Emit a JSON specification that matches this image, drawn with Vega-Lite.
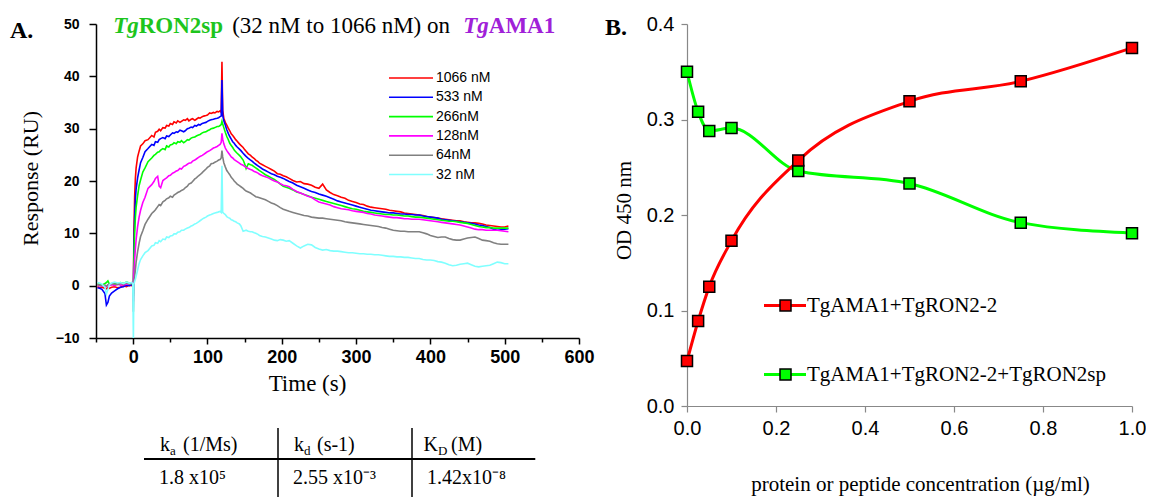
{
  "$schema": "https://vega.github.io/schema/vega-lite/v6.json",
  "background": "white",
  "padding": {"left": 10, "top": 14, "right": 0, "bottom": 0},
  "config": {
    "view": {"stroke": null},
    "axis": {"grid": false, "labelFlush": false, "labelOverlap": false}
  },
  "bounds": "flush",
  "columns": 2,
  "spacing": {"row": 22, "column": 108},
  "concat": [
        {
          "width": 483,
          "height": 314,
          "title": {"text": "A.", "anchor": "start", "frame": "group", "font": "Liberation Serif", "fontSize": 24, "fontWeight": "bold", "color": "black", "baseline": "middle", "offset": 0, "dx": -86, "dy": 40},
          "resolve": {"axis": {"x": "independent"}},
          "layer": [
            {
              "data": {"values": [
                {"t": -48, "1066 nM": -0.2, "533 nM": -0.4, "266nM": 0.3, "128nM": 0.1, "64nM": 0.2, "32 nM": 0.6},
                {"t": -45, "1066 nM": -0.4, "533 nM": -0.5, "266nM": 0.2, "128nM": 0.0, "64nM": 0.1, "32 nM": 0.5},
                {"t": -42, "1066 nM": -0.3, "533 nM": -0.7, "266nM": 0.1, "128nM": -0.1, "64nM": 0.0, "32 nM": 0.3},
                {"t": -38, "1066 nM": -0.5, "533 nM": -1.5, "266nM": 0.4, "128nM": 0.0, "64nM": 0.1, "32 nM": -0.3},
                {"t": -36, "1066 nM": -0.6, "533 nM": -3.7, "266nM": 0.6, "128nM": -0.2, "64nM": -0.1, "32 nM": -1.6},
                {"t": -34, "1066 nM": -0.4, "533 nM": -3.2, "266nM": 0.9, "128nM": 0.0, "64nM": 0.2, "32 nM": -0.8},
                {"t": -32, "1066 nM": -0.5, "533 nM": -2.0, "266nM": 0.3, "128nM": 0.1, "64nM": 0.3, "32 nM": 0.2},
                {"t": -29, "1066 nM": -0.3, "533 nM": -1.4, "266nM": 0.2, "128nM": 0.2, "64nM": 0.4, "32 nM": 0.5},
                {"t": -25, "1066 nM": -0.2, "533 nM": -1.0, "266nM": 0.4, "128nM": 0.0, "64nM": 0.3, "32 nM": 0.7},
                {"t": -21, "1066 nM": -0.4, "533 nM": -0.6, "266nM": 0.3, "128nM": 0.3, "64nM": 0.2, "32 nM": 0.5},
                {"t": -17, "1066 nM": -0.3, "533 nM": -0.3, "266nM": 0.6, "128nM": 0.1, "64nM": 0.4, "32 nM": 0.6},
                {"t": -13, "1066 nM": 0.0, "533 nM": -0.2, "266nM": 0.4, "128nM": 0.2, "64nM": 0.3, "32 nM": 0.4},
                {"t": -9, "1066 nM": -0.2, "533 nM": 0.1, "266nM": 0.7, "128nM": 0.3, "64nM": 0.5, "32 nM": 0.7},
                {"t": -5, "1066 nM": 0.1, "533 nM": 0.0, "266nM": 0.5, "128nM": 0.4, "64nM": 0.3, "32 nM": 0.5},
                {"t": -2, "1066 nM": 0.0, "533 nM": 0.2, "266nM": 0.4, "128nM": 0.6, "64nM": 0.4, "32 nM": 0.6},
                {"t": -0.5, "1066 nM": 0.2, "533 nM": 0.1, "266nM": 0.3, "128nM": 0.5, "64nM": 0.3, "32 nM": 0.4},
                {"t": 0.3, "1066 nM": -1.0, "533 nM": -1.5, "266nM": -2.0, "128nM": -3.0, "64nM": -5.0, "32 nM": -10.5},
                {"t": 1, "1066 nM": 10, "533 nM": 7, "266nM": 5, "128nM": 2.5, "64nM": 0.5, "32 nM": 0.3},
                {"t": 2, "1066 nM": 17, "533 nM": 13, "266nM": 10, "128nM": 5, "64nM": 1.8, "32 nM": 0.8},
                {"t": 3, "1066 nM": 20.5, "533 nM": 16.5, "266nM": 13, "128nM": 7, "64nM": 3, "32 nM": 1.2},
                {"t": 4, "1066 nM": 22.5, "533 nM": 18.5, "266nM": 15, "128nM": 8.8, "64nM": 4.5, "32 nM": 1.8},
                {"t": 6, "1066 nM": 24.6, "533 nM": 20.6, "266nM": 17.2, "128nM": 11.3, "64nM": 6.5, "32 nM": 3.0},
                {"t": 8, "1066 nM": 25.7, "533 nM": 22.1, "266nM": 19.1, "128nM": 13.1, "64nM": 8.1, "32 nM": 4.2},
                {"t": 10, "1066 nM": 26.7, "533 nM": 23.5, "266nM": 20.2, "128nM": 14.4, "64nM": 9.4, "32 nM": 5.0},
                {"t": 13, "1066 nM": 27.1, "533 nM": 24.5, "266nM": 21.7, "128nM": 15.9, "64nM": 10.5, "32 nM": 5.7},
                {"t": 16, "1066 nM": 27.7, "533 nM": 25.6, "266nM": 22.5, "128nM": 16.9, "64nM": 11.7, "32 nM": 6.3},
                {"t": 20, "1066 nM": 27.9, "533 nM": 26.2, "266nM": 23.7, "128nM": 18.6, "64nM": 12.7, "32 nM": 6.7},
                {"t": 25, "1066 nM": 28.7, "533 nM": 27.0, "266nM": 24.4, "128nM": 19.3, "64nM": 13.8, "32 nM": 7.6},
                {"t": 28, "1066 nM": 28.4, "533 nM": 26.8, "266nM": 24.9, "128nM": 19.9, "64nM": 14.2, "32 nM": 7.7},
                {"t": 30, "1066 nM": 29.3, "533 nM": 27.5, "266nM": 25.1, "128nM": 20.5, "64nM": 14.5, "32 nM": 8.2},
                {"t": 33, "1066 nM": 29.5, "533 nM": 27.4, "266nM": 25.5, "128nM": 20.9, "64nM": 15.1, "32 nM": 8.1},
                {"t": 35, "1066 nM": 29.9, "533 nM": 27.9, "266nM": 25.6, "128nM": 19.0, "64nM": 15.5, "32 nM": 8.6},
                {"t": 37, "1066 nM": 29.6, "533 nM": 28.1, "266nM": 25.9, "128nM": 18.7, "64nM": 15.3, "32 nM": 8.4},
                {"t": 40, "1066 nM": 30.2, "533 nM": 28.3, "266nM": 26.2, "128nM": 20.1, "64nM": 16.0, "32 nM": 8.9},
                {"t": 43, "1066 nM": 30.1, "533 nM": 28.1, "266nM": 26.0, "128nM": 20.4, "64nM": 16.3, "32 nM": 8.8},
                {"t": 45, "1066 nM": 30.6, "533 nM": 28.6, "266nM": 26.7, "128nM": 20.6, "64nM": 16.6, "32 nM": 9.3},
                {"t": 48, "1066 nM": 30.5, "533 nM": 28.5, "266nM": 26.5, "128nM": 21.0, "64nM": 16.8, "32 nM": 9.2},
                {"t": 50, "1066 nM": 31.0, "533 nM": 28.8, "266nM": 26.9, "128nM": 21.1, "64nM": 17.1, "32 nM": 9.5},
                {"t": 53, "1066 nM": 30.8, "533 nM": 29.2, "266nM": 27.0, "128nM": 21.5, "64nM": 16.9, "32 nM": 9.6},
                {"t": 55, "1066 nM": 31.3, "533 nM": 29.1, "266nM": 27.3, "128nM": 21.6, "64nM": 17.3, "32 nM": 9.9},
                {"t": 58, "1066 nM": 31.1, "533 nM": 29.4, "266nM": 27.1, "128nM": 21.9, "64nM": 17.6, "32 nM": 9.9},
                {"t": 60, "1066 nM": 31.5, "533 nM": 29.3, "266nM": 27.5, "128nM": 22.0, "64nM": 17.8, "32 nM": 10.2},
                {"t": 63, "1066 nM": 31.2, "533 nM": 29.7, "266nM": 27.4, "128nM": 22.4, "64nM": 18.0, "32 nM": 10.3},
                {"t": 65, "1066 nM": 31.4, "533 nM": 29.6, "266nM": 27.7, "128nM": 22.3, "64nM": 18.2, "32 nM": 10.6},
                {"t": 68, "1066 nM": 31.7, "533 nM": 29.4, "266nM": 27.3, "128nM": 22.8, "64nM": 18.4, "32 nM": 10.6},
                {"t": 70, "1066 nM": 31.6, "533 nM": 29.6, "266nM": 27.5, "128nM": 22.9, "64nM": 18.7, "32 nM": 10.8},
                {"t": 73, "1066 nM": 31.9, "533 nM": 30.0, "266nM": 27.9, "128nM": 23.2, "64nM": 19.0, "32 nM": 11.0},
                {"t": 75, "1066 nM": 31.5, "533 nM": 30.1, "266nM": 27.8, "128nM": 23.4, "64nM": 19.4, "32 nM": 11.1},
                {"t": 78, "1066 nM": 31.8, "533 nM": 30.3, "266nM": 28.2, "128nM": 23.5, "64nM": 19.6, "32 nM": 11.4},
                {"t": 80, "1066 nM": 31.9, "533 nM": 30.2, "266nM": 28.3, "128nM": 23.8, "64nM": 19.9, "32 nM": 11.5},
                {"t": 83, "1066 nM": 31.6, "533 nM": 30.6, "266nM": 28.4, "128nM": 24.0, "64nM": 20.4, "32 nM": 11.8},
                {"t": 85, "1066 nM": 31.8, "533 nM": 30.5, "266nM": 28.6, "128nM": 24.2, "64nM": 20.6, "32 nM": 11.9},
                {"t": 88, "1066 nM": 32.1, "533 nM": 30.8, "266nM": 28.8, "128nM": 24.5, "64nM": 21.0, "32 nM": 12.2},
                {"t": 90, "1066 nM": 32.0, "533 nM": 30.7, "266nM": 28.9, "128nM": 24.7, "64nM": 21.2, "32 nM": 12.4},
                {"t": 93, "1066 nM": 32.3, "533 nM": 31.0, "266nM": 29.2, "128nM": 24.9, "64nM": 21.6, "32 nM": 12.7},
                {"t": 95, "1066 nM": 32.4, "533 nM": 31.1, "266nM": 29.3, "128nM": 25.1, "64nM": 21.9, "32 nM": 12.9},
                {"t": 98, "1066 nM": 32.5, "533 nM": 31.2, "266nM": 29.4, "128nM": 25.4, "64nM": 22.3, "32 nM": 13.1},
                {"t": 100, "1066 nM": 32.6, "533 nM": 31.4, "266nM": 29.6, "128nM": 25.6, "64nM": 22.6, "32 nM": 13.3},
                {"t": 103, "1066 nM": 33.0, "533 nM": 31.6, "266nM": 29.8, "128nM": 25.8, "64nM": 22.9, "32 nM": 13.5},
                {"t": 105, "1066 nM": 32.9, "533 nM": 31.7, "266nM": 30.0, "128nM": 26.0, "64nM": 23.3, "32 nM": 13.6},
                {"t": 108, "1066 nM": 33.1, "533 nM": 31.8, "266nM": 30.1, "128nM": 26.3, "64nM": 23.4, "32 nM": 13.8},
                {"t": 110, "1066 nM": 33.0, "533 nM": 31.9, "266nM": 30.2, "128nM": 26.4, "64nM": 23.6, "32 nM": 13.9},
                {"t": 113, "1066 nM": 33.3, "533 nM": 32.0, "266nM": 30.4, "128nM": 26.6, "64nM": 23.8, "32 nM": 14.0},
                {"t": 115, "1066 nM": 33.2, "533 nM": 32.1, "266nM": 30.4, "128nM": 26.8, "64nM": 24.0, "32 nM": 14.1},
                {"t": 117, "1066 nM": 33.4, "533 nM": 32.3, "266nM": 30.6, "128nM": 27.0, "64nM": 24.1, "32 nM": 14.2},
                {"t": 118.5, "1066 nM": 33.1, "533 nM": 32.4, "266nM": 30.8, "128nM": 27.4, "64nM": 24.4, "32 nM": 14.0},
                {"t": 119.5, "1066 nM": 42.8, "533 nM": 39.3, "266nM": 31.4, "128nM": 29.1, "64nM": 25.8, "32 nM": 22.9},
                {"t": 120.5, "1066 nM": 33.5, "533 nM": 32.6, "266nM": 30.9, "128nM": 28.0, "64nM": 24.6, "32 nM": 14.0},
                {"t": 122, "1066 nM": 32.0, "533 nM": 31.5, "266nM": 30.2, "128nM": 27.1, "64nM": 23.5, "32 nM": 13.8},
                {"t": 124, "1066 nM": 31.2, "533 nM": 30.7, "266nM": 29.3, "128nM": 26.3, "64nM": 22.7, "32 nM": 13.6},
                {"t": 126, "1066 nM": 30.7, "533 nM": 29.8, "266nM": 28.5, "128nM": 25.8, "64nM": 22.0, "32 nM": 13.2},
                {"t": 128, "1066 nM": 30.1, "533 nM": 29.1, "266nM": 27.9, "128nM": 25.4, "64nM": 21.6, "32 nM": 13.0},
                {"t": 130, "1066 nM": 29.6, "533 nM": 28.5, "266nM": 27.2, "128nM": 25.0, "64nM": 21.2, "32 nM": 12.9},
                {"t": 132, "1066 nM": 29.0, "533 nM": 28.0, "266nM": 26.8, "128nM": 24.6, "64nM": 20.7, "32 nM": 12.6},
                {"t": 134, "1066 nM": 28.7, "533 nM": 27.5, "266nM": 26.4, "128nM": 24.4, "64nM": 20.4, "32 nM": 12.5},
                {"t": 136, "1066 nM": 28.3, "533 nM": 27.2, "266nM": 25.9, "128nM": 24.1, "64nM": 20.0, "32 nM": 12.3},
                {"t": 138, "1066 nM": 27.9, "533 nM": 26.8, "266nM": 25.6, "128nM": 23.9, "64nM": 19.7, "32 nM": 12.2},
                {"t": 140, "1066 nM": 27.6, "533 nM": 26.5, "266nM": 25.3, "128nM": 23.7, "64nM": 19.4, "32 nM": 12.0},
                {"t": 143, "1066 nM": 27.1, "533 nM": 26.1, "266nM": 24.9, "128nM": 23.4, "64nM": 19.1, "32 nM": 11.8},
                {"t": 145, "1066 nM": 26.8, "533 nM": 25.8, "266nM": 24.6, "128nM": 23.2, "64nM": 18.9, "32 nM": 11.4},
                {"t": 148, "1066 nM": 26.4, "533 nM": 25.3, "266nM": 24.0, "128nM": 23.0, "64nM": 18.6, "32 nM": 10.4},
                {"t": 150, "1066 nM": 26.0, "533 nM": 25.0, "266nM": 23.3, "128nM": 22.8, "64nM": 18.3, "32 nM": 10.5},
                {"t": 152, "1066 nM": 25.7, "533 nM": 24.7, "266nM": 22.4, "128nM": 22.6, "64nM": 18.1, "32 nM": 10.6},
                {"t": 155, "1066 nM": 25.2, "533 nM": 24.3, "266nM": 23.3, "128nM": 22.4, "64nM": 17.9, "32 nM": 10.4},
                {"t": 158, "1066 nM": 24.9, "533 nM": 24.0, "266nM": 23.1, "128nM": 22.2, "64nM": 17.7, "32 nM": 10.3},
                {"t": 160, "1066 nM": 24.6, "533 nM": 23.8, "266nM": 23.0, "128nM": 22.1, "64nM": 17.5, "32 nM": 10.3},
                {"t": 163, "1066 nM": 24.3, "533 nM": 23.4, "266nM": 22.7, "128nM": 21.8, "64nM": 17.2, "32 nM": 10.1},
                {"t": 165, "1066 nM": 24.0, "533 nM": 23.2, "266nM": 22.5, "128nM": 21.7, "64nM": 17.0, "32 nM": 10.0},
                {"t": 168, "1066 nM": 23.7, "533 nM": 22.9, "266nM": 22.2, "128nM": 21.5, "64nM": 16.9, "32 nM": 9.8},
                {"t": 170, "1066 nM": 23.4, "533 nM": 22.7, "266nM": 22.0, "128nM": 21.3, "64nM": 16.8, "32 nM": 9.6},
                {"t": 174, "1066 nM": 23.1, "533 nM": 22.3, "266nM": 21.6, "128nM": 21.0, "64nM": 16.6, "32 nM": 9.4},
                {"t": 178, "1066 nM": 22.8, "533 nM": 22.0, "266nM": 21.2, "128nM": 20.8, "64nM": 16.4, "32 nM": 9.3},
                {"t": 182, "1066 nM": 22.5, "533 nM": 21.7, "266nM": 20.9, "128nM": 20.6, "64nM": 16.1, "32 nM": 9.1},
                {"t": 186, "1066 nM": 22.2, "533 nM": 21.4, "266nM": 20.6, "128nM": 20.3, "64nM": 15.8, "32 nM": 8.9},
                {"t": 190, "1066 nM": 21.9, "533 nM": 21.2, "266nM": 20.3, "128nM": 20.0, "64nM": 15.6, "32 nM": 8.7},
                {"t": 194, "1066 nM": 21.4, "533 nM": 20.9, "266nM": 19.9, "128nM": 19.8, "64nM": 15.3, "32 nM": 8.6},
                {"t": 198, "1066 nM": 21.3, "533 nM": 20.7, "266nM": 19.4, "128nM": 19.5, "64nM": 14.9, "32 nM": 8.8},
                {"t": 202, "1066 nM": 21.0, "533 nM": 20.5, "266nM": 19.0, "128nM": 19.2, "64nM": 14.6, "32 nM": 8.7},
                {"t": 206, "1066 nM": 20.8, "533 nM": 20.2, "266nM": 18.8, "128nM": 19.1, "64nM": 14.4, "32 nM": 8.5},
                {"t": 210, "1066 nM": 20.5, "533 nM": 19.9, "266nM": 18.6, "128nM": 18.9, "64nM": 14.2, "32 nM": 8.6},
                {"t": 215, "1066 nM": 20.1, "533 nM": 19.6, "266nM": 18.3, "128nM": 18.4, "64nM": 14.0, "32 nM": 8.1},
                {"t": 220, "1066 nM": 19.8, "533 nM": 19.2, "266nM": 17.9, "128nM": 18.0, "64nM": 13.8, "32 nM": 7.6},
                {"t": 225, "1066 nM": 19.9, "533 nM": 18.9, "266nM": 17.7, "128nM": 17.7, "64nM": 13.6, "32 nM": 7.2},
                {"t": 230, "1066 nM": 19.5, "533 nM": 18.6, "266nM": 17.4, "128nM": 17.4, "64nM": 13.4, "32 nM": 7.6},
                {"t": 235, "1066 nM": 19.4, "533 nM": 18.3, "266nM": 17.2, "128nM": 17.1, "64nM": 13.3, "32 nM": 7.9},
                {"t": 240, "1066 nM": 19.2, "533 nM": 18.0, "266nM": 16.9, "128nM": 16.9, "64nM": 13.1, "32 nM": 7.8},
                {"t": 245, "1066 nM": 18.8, "533 nM": 17.8, "266nM": 16.7, "128nM": 16.4, "64nM": 13.0, "32 nM": 7.3},
                {"t": 250, "1066 nM": 18.6, "533 nM": 17.5, "266nM": 16.5, "128nM": 16.0, "64nM": 12.9, "32 nM": 7.0},
                {"t": 255, "1066 nM": 19.4, "533 nM": 17.3, "266nM": 16.3, "128nM": 15.8, "64nM": 12.9, "32 nM": 6.8},
                {"t": 260, "1066 nM": 18.3, "533 nM": 17.1, "266nM": 16.1, "128nM": 15.6, "64nM": 12.8, "32 nM": 6.9},
                {"t": 265, "1066 nM": 17.8, "533 nM": 16.8, "266nM": 15.9, "128nM": 15.4, "64nM": 12.7, "32 nM": 6.7},
                {"t": 270, "1066 nM": 17.4, "533 nM": 16.5, "266nM": 15.7, "128nM": 15.1, "64nM": 12.6, "32 nM": 6.6},
                {"t": 275, "1066 nM": 17.2, "533 nM": 16.2, "266nM": 15.5, "128nM": 14.9, "64nM": 12.5, "32 nM": 6.6},
                {"t": 280, "1066 nM": 16.9, "533 nM": 16.0, "266nM": 15.3, "128nM": 14.7, "64nM": 12.4, "32 nM": 6.5},
                {"t": 285, "1066 nM": 16.7, "533 nM": 15.8, "266nM": 15.1, "128nM": 14.6, "64nM": 12.2, "32 nM": 6.4},
                {"t": 290, "1066 nM": 16.3, "533 nM": 15.6, "266nM": 14.9, "128nM": 14.5, "64nM": 12.1, "32 nM": 6.3},
                {"t": 295, "1066 nM": 16.1, "533 nM": 15.4, "266nM": 14.7, "128nM": 14.3, "64nM": 12.0, "32 nM": 6.3},
                {"t": 300, "1066 nM": 15.9, "533 nM": 15.2, "266nM": 14.6, "128nM": 14.2, "64nM": 11.9, "32 nM": 6.2},
                {"t": 305, "1066 nM": 15.6, "533 nM": 15.0, "266nM": 14.4, "128nM": 14.1, "64nM": 11.8, "32 nM": 6.1},
                {"t": 310, "1066 nM": 15.5, "533 nM": 14.8, "266nM": 14.2, "128nM": 14.0, "64nM": 11.7, "32 nM": 6.1},
                {"t": 315, "1066 nM": 15.2, "533 nM": 14.6, "266nM": 14.1, "128nM": 13.8, "64nM": 11.6, "32 nM": 6.0},
                {"t": 320, "1066 nM": 15.0, "533 nM": 14.4, "266nM": 14.0, "128nM": 13.7, "64nM": 11.5, "32 nM": 6.0},
                {"t": 325, "1066 nM": 14.9, "533 nM": 14.3, "266nM": 13.9, "128nM": 13.5, "64nM": 11.4, "32 nM": 5.9},
                {"t": 330, "1066 nM": 14.8, "533 nM": 14.2, "266nM": 13.8, "128nM": 13.4, "64nM": 11.3, "32 nM": 5.9},
                {"t": 335, "1066 nM": 14.7, "533 nM": 14.1, "266nM": 13.7, "128nM": 13.3, "64nM": 11.1, "32 nM": 5.8},
                {"t": 340, "1066 nM": 14.6, "533 nM": 14.0, "266nM": 13.6, "128nM": 13.2, "64nM": 11.0, "32 nM": 5.7},
                {"t": 345, "1066 nM": 14.4, "533 nM": 13.9, "266nM": 13.6, "128nM": 13.1, "64nM": 10.8, "32 nM": 5.6},
                {"t": 350, "1066 nM": 14.3, "533 nM": 13.9, "266nM": 13.5, "128nM": 13.0, "64nM": 10.6, "32 nM": 5.6},
                {"t": 355, "1066 nM": 14.2, "533 nM": 13.8, "266nM": 13.5, "128nM": 13.0, "64nM": 10.5, "32 nM": 5.5},
                {"t": 360, "1066 nM": 14.1, "533 nM": 13.7, "266nM": 13.4, "128nM": 12.9, "64nM": 10.4, "32 nM": 5.5},
                {"t": 365, "1066 nM": 13.9, "533 nM": 13.7, "266nM": 13.3, "128nM": 12.8, "64nM": 10.4, "32 nM": 5.4},
                {"t": 370, "1066 nM": 13.8, "533 nM": 13.6, "266nM": 13.3, "128nM": 12.8, "64nM": 10.3, "32 nM": 5.4},
                {"t": 375, "1066 nM": 13.7, "533 nM": 13.6, "266nM": 13.2, "128nM": 12.7, "64nM": 10.3, "32 nM": 5.3},
                {"t": 380, "1066 nM": 13.6, "533 nM": 13.5, "266nM": 13.1, "128nM": 12.7, "64nM": 10.3, "32 nM": 5.2},
                {"t": 385, "1066 nM": 13.5, "533 nM": 13.5, "266nM": 13.1, "128nM": 12.7, "64nM": 10.3, "32 nM": 5.2},
                {"t": 390, "1066 nM": 13.4, "533 nM": 13.3, "266nM": 13.0, "128nM": 12.6, "64nM": 10.1, "32 nM": 5.0},
                {"t": 395, "1066 nM": 13.2, "533 nM": 13.2, "266nM": 12.9, "128nM": 12.5, "64nM": 9.9, "32 nM": 4.9},
                {"t": 400, "1066 nM": 13.1, "533 nM": 13.1, "266nM": 12.8, "128nM": 12.4, "64nM": 9.6, "32 nM": 4.9},
                {"t": 405, "1066 nM": 13.0, "533 nM": 13.0, "266nM": 12.7, "128nM": 12.3, "64nM": 9.4, "32 nM": 4.8},
                {"t": 410, "1066 nM": 12.9, "533 nM": 12.9, "266nM": 12.6, "128nM": 12.2, "64nM": 9.2, "32 nM": 4.6},
                {"t": 415, "1066 nM": 12.8, "533 nM": 12.7, "266nM": 12.5, "128nM": 12.1, "64nM": 9.3, "32 nM": 4.5},
                {"t": 420, "1066 nM": 12.7, "533 nM": 12.6, "266nM": 12.4, "128nM": 12.0, "64nM": 9.3, "32 nM": 4.3},
                {"t": 425, "1066 nM": 12.6, "533 nM": 12.5, "266nM": 12.3, "128nM": 11.9, "64nM": 9.0, "32 nM": 4.0},
                {"t": 430, "1066 nM": 12.5, "533 nM": 12.4, "266nM": 12.3, "128nM": 11.8, "64nM": 8.8, "32 nM": 3.8},
                {"t": 435, "1066 nM": 12.4, "533 nM": 12.3, "266nM": 12.2, "128nM": 11.7, "64nM": 8.7, "32 nM": 3.9},
                {"t": 440, "1066 nM": 12.4, "533 nM": 12.2, "266nM": 12.1, "128nM": 11.6, "64nM": 8.7, "32 nM": 4.1},
                {"t": 445, "1066 nM": 12.2, "533 nM": 12.1, "266nM": 12.0, "128nM": 11.4, "64nM": 8.9, "32 nM": 4.2},
                {"t": 450, "1066 nM": 12.1, "533 nM": 12.0, "266nM": 11.9, "128nM": 11.2, "64nM": 9.1, "32 nM": 4.3},
                {"t": 455, "1066 nM": 12.0, "533 nM": 11.9, "266nM": 11.7, "128nM": 11.0, "64nM": 9.2, "32 nM": 4.0},
                {"t": 460, "1066 nM": 12.0, "533 nM": 11.8, "266nM": 11.5, "128nM": 10.8, "64nM": 9.3, "32 nM": 3.7},
                {"t": 465, "1066 nM": 11.9, "533 nM": 11.6, "266nM": 11.3, "128nM": 10.7, "64nM": 9.0, "32 nM": 3.6},
                {"t": 470, "1066 nM": 11.8, "533 nM": 11.5, "266nM": 11.2, "128nM": 10.7, "64nM": 8.7, "32 nM": 3.7},
                {"t": 475, "1066 nM": 11.6, "533 nM": 11.3, "266nM": 11.1, "128nM": 10.6, "64nM": 8.6, "32 nM": 3.8},
                {"t": 480, "1066 nM": 11.5, "533 nM": 11.1, "266nM": 11.1, "128nM": 10.6, "64nM": 8.5, "32 nM": 3.9},
                {"t": 485, "1066 nM": 11.4, "533 nM": 10.8, "266nM": 11.0, "128nM": 10.6, "64nM": 8.2, "32 nM": 4.2},
                {"t": 490, "1066 nM": 11.3, "533 nM": 10.6, "266nM": 11.0, "128nM": 10.6, "64nM": 8.0, "32 nM": 4.5},
                {"t": 495, "1066 nM": 11.2, "533 nM": 10.7, "266nM": 11.0, "128nM": 10.5, "64nM": 7.9, "32 nM": 4.4},
                {"t": 500, "1066 nM": 11.2, "533 nM": 10.8, "266nM": 11.0, "128nM": 10.4, "64nM": 7.9, "32 nM": 4.2},
                {"t": 505, "1066 nM": 11.4, "533 nM": 10.9, "266nM": 11.0, "128nM": 10.3, "64nM": 7.9, "32 nM": 4.2}
              ]},
              "transform": [{"fold": ["1066 nM", "533 nM", "266nM", "128nM", "64nM", "32 nM"], "as": ["conc", "R"]}],
              "mark": {"type": "line", "strokeWidth": 1.6, "clip": true},
              "encoding": {
                "x": {
                  "field": "t", "type": "quantitative",
                  "scale": {"domain": [-50, 600], "nice": false, "zero": false},
                  "axis": {
                    "orient": "bottom",
                    "title": "Time (s)",
                    "values": [0, 100, 200, 300, 400, 500, 600],
                    "tickSize": 6,
                    "labelFont": "Liberation Sans", "labelFontWeight": "bold", "labelFontSize": 18, "labelColor": "black",
                    "labelPadding": 4,
                    "domainColor": "black", "domainWidth": 1.5, "tickColor": "black", "tickWidth": 1.5,
                    "titleFont": "Liberation Serif", "titleFontSize": 23, "titleFontWeight": "normal", "titleColor": "black",
                    "titleX": 211, "titleY": 45, "titleBaseline": "middle"
                  }
                },
                "y": {
                  "field": "R", "type": "quantitative",
                  "scale": {"domain": [-10, 50], "nice": false, "zero": false},
                  "axis": {
                    "title": "Response (RU)",
                    "values": [-10, -5, 0, 5, 10, 15, 20, 25, 30, 35, 40, 45, 50],
                    "labelExpr": "datum.value % 10 === 0 ? datum.label : ''",
                    "tickSize": {"condition": {"test": "datum.value % 10 === 0", "value": 7}, "value": 4},
                    "labelFont": "Liberation Sans", "labelFontWeight": "bold", "labelFontSize": 14, "labelColor": "black",
                    "labelPadding": 10,
                    "domainColor": "black", "domainWidth": 1.5, "tickColor": "black", "tickWidth": 1.5,
                    "titleFont": "Liberation Serif", "titleFontSize": 22, "titleFontWeight": "normal", "titleColor": "black",
                    "titleX": -66, "titleY": 154, "titleBaseline": "middle"
                  }
                },
                "color": {
                  "field": "conc", "type": "nominal",
                  "scale": {"domain": ["1066 nM", "533 nM", "266nM", "128nM", "64nM", "32 nM"], "range": ["#FF0000", "#0000FF", "#00FF00", "#FF00FF", "#808080", "#80FFFF"]},
                  "legend": {
                    "orient": "none", "legendX": 308, "legendY": 47, "title": null, "padding": 0,
                    "symbolType": "M-4,0H4", "symbolSize": 121, "symbolStrokeWidth": 1.6,
                    "labelFont": "Liberation Sans", "labelFontSize": 14, "labelColor": "black", "labelOffset": 18,
                    "rowPadding": 5.3
                  }
                }
              }
            },
            {
              "data": {"values": [{}]},
              "layer": [
                {"mark": {"type": "text", "text": "Tg", "font": "Liberation Serif", "fontSize": 23, "fontWeight": "bold", "fontStyle": "italic", "color": "#1DC51D", "align": "left", "baseline": "middle"},
                 "encoding": {
                   "x": {"datum": -26.9, "type": "quantitative",
                         "axis": {"orient": "bottom", "values": [-50, 50, 150, 250, 350, 450, 550], "labels": false, "domain": false, "tickSize": 4, "tickColor": "black", "tickWidth": 1.5, "title": null, "grid": false}},
                   "y": {"datum": 49.6}}},
                {"mark": {"type": "text", "text": "RON2sp", "font": "Liberation Serif", "fontSize": 23, "fontWeight": "bold", "color": "#1DC51D", "align": "left", "baseline": "middle"},
                 "encoding": {"x": {"datum": 7.5}, "y": {"datum": 49.6}}},
                {"mark": {"type": "text", "text": "(32 nM to 1066 nM) on", "font": "Liberation Serif", "fontSize": 23, "color": "black", "align": "left", "baseline": "middle"},
                 "encoding": {"x": {"datum": 133.2}, "y": {"datum": 49.6}}},
                {"mark": {"type": "text", "text": "Tg", "font": "Liberation Serif", "fontSize": 23, "fontWeight": "bold", "fontStyle": "italic", "color": "#A020D8", "align": "left", "baseline": "middle"},
                 "encoding": {"x": {"datum": 444.1}, "y": {"datum": 49.6}}},
                {"mark": {"type": "text", "text": "AMA1", "font": "Liberation Serif", "fontSize": 23, "fontWeight": "bold", "color": "#A020D8", "align": "left", "baseline": "middle"},
                 "encoding": {"x": {"datum": 478.6}, "y": {"datum": 49.6}}}
              ]
            }
          ]
        },
    {
      "width": 445,
      "height": 382,
      "title": {"text": "B.", "anchor": "start", "frame": "group", "font": "Liberation Serif", "fontSize": 24, "fontWeight": "bold", "color": "black", "baseline": "middle", "offset": 0, "dx": -82, "dy": 38},
      "data": {"values": [
        {"c": 0, "od": 0.350, "s": "TgAMA1+TgRON2-2+TgRON2sp"},
        {"c": 0.025, "od": 0.308, "s": "TgAMA1+TgRON2-2+TgRON2sp"},
        {"c": 0.05, "od": 0.288, "s": "TgAMA1+TgRON2-2+TgRON2sp"},
        {"c": 0.1, "od": 0.291, "s": "TgAMA1+TgRON2-2+TgRON2sp"},
        {"c": 0.25, "od": 0.246, "s": "TgAMA1+TgRON2-2+TgRON2sp"},
        {"c": 0.5, "od": 0.233, "s": "TgAMA1+TgRON2-2+TgRON2sp"},
        {"c": 0.75, "od": 0.192, "s": "TgAMA1+TgRON2-2+TgRON2sp"},
        {"c": 1.0, "od": 0.181, "s": "TgAMA1+TgRON2-2+TgRON2sp"},
        {"c": 0, "od": 0.047, "s": "TgAMA1+TgRON2-2"},
        {"c": 0.025, "od": 0.089, "s": "TgAMA1+TgRON2-2"},
        {"c": 0.05, "od": 0.125, "s": "TgAMA1+TgRON2-2"},
        {"c": 0.1, "od": 0.173, "s": "TgAMA1+TgRON2-2"},
        {"c": 0.25, "od": 0.257, "s": "TgAMA1+TgRON2-2"},
        {"c": 0.5, "od": 0.319, "s": "TgAMA1+TgRON2-2"},
        {"c": 0.75, "od": 0.340, "s": "TgAMA1+TgRON2-2"},
        {"c": 1.0, "od": 0.375, "s": "TgAMA1+TgRON2-2"}
      ]},
      "encoding": {
        "x": {
          "field": "c", "type": "quantitative",
          "scale": {"domain": [0, 1], "nice": false, "zero": false},
          "axis": {
            "title": "protein or peptide concentration (µg/ml)",
            "values": [0, 0.2, 0.4, 0.6, 0.8, 1.0], "format": ".1f",
            "labelFont": "Liberation Sans", "labelFontSize": 20, "labelColor": "black", "labelPadding": 6,
            "domainColor": "#888888", "tickColor": "#888888", "tickSize": 6, "domainWidth": 1.2, "tickWidth": 1.2,
            "titleFont": "Liberation Serif", "titleFontSize": 21, "titleFontWeight": "normal", "titleColor": "black",
            "titleX": 233, "titleY": 78, "titleBaseline": "middle"
          }
        },
        "y": {
          "field": "od", "type": "quantitative",
          "scale": {"domain": [0, 0.4], "nice": false, "zero": false},
          "axis": {
            "title": "OD 450 nm",
            "values": [0, 0.1, 0.2, 0.3, 0.4], "format": ".1f",
            "labelFont": "Liberation Sans", "labelFontSize": 20, "labelColor": "black", "labelPadding": 7,
            "domainColor": "#888888", "tickColor": "#888888", "tickSize": 6, "domainWidth": 1.2, "tickWidth": 1.2,
            "titleFont": "Liberation Serif", "titleFontSize": 21, "titleFontWeight": "normal", "titleColor": "black",
            "titleX": -63, "titleY": 186, "titleBaseline": "middle"
          }
        }
      },
      "layer": [
        {
          "mark": {"type": "line", "interpolate": "monotone", "strokeWidth": 3},
          "encoding": {
            "stroke": {
              "field": "s", "type": "nominal",
              "scale": {"domain": ["TgAMA1+TgRON2-2", "TgAMA1+TgRON2-2+TgRON2sp"], "range": ["#FF0000", "#00FF00"]},
              "legend": {
                "orient": "none", "legendX": 678.5, "legendY": 271, "title": null, "padding": 0,
                "symbolType": "M-3.5,0H3.5", "symbolSize": 144, "symbolStrokeWidth": 3,
                "labelFont": "Liberation Serif", "labelFontSize": 21, "labelColor": "black", "labelOffset": 11.5, "labelLimit": 0,
                "rowPadding": 47
              }
            }
          }
        },
        {
          "mark": {"type": "point", "shape": "square", "size": 121, "filled": true, "opacity": 1, "stroke": "black", "strokeWidth": 1.5},
          "encoding": {
            "fill": {
              "field": "s", "type": "nominal",
              "scale": {"domain": ["TgAMA1+TgRON2-2+TgRON2sp", "TgAMA1+TgRON2-2"], "range": ["#00FF00", "#FF0000"]},
              "legend": {
                "orient": "none", "legendX": 679, "legendY": 271, "title": null, "padding": 0,
                "values": ["TgAMA1+TgRON2-2", "TgAMA1+TgRON2-2+TgRON2sp"],
                "symbolType": "square", "symbolSize": 121, "symbolStrokeColor": "black", "symbolStrokeWidth": 1.5, "symbolOpacity": 1,
                "labelFont": "Liberation Serif", "labelFontSize": 21, "labelOpacity": 0, "labelOffset": 11.5, "labelLimit": 0,
                "rowPadding": 47
              }
            }
          }
        }
      ]
    },
        {
          "width": 483,
          "height": 72,
          "layer": [
            {
              "data": {"values": [{"col": "kd"}, {"col": "KD"}]},
              "mark": {"type": "rule", "color": "black", "strokeWidth": 1.5},
              "encoding": {
                "x": {"field": "col", "type": "nominal", "bandPosition": 0,
                      "scale": {"type": "band", "domain": ["ka", "kd", "KD"], "range": [48, 450], "paddingInner": 0, "paddingOuter": 0},
                      "axis": null},
                "y": {"value": 0},
                "y2": {"value": "height"}
              }
            },
            {
              "data": {"values": [{}]},
              "mark": {"type": "rule", "color": "black", "strokeWidth": 2},
              "encoding": {
                "x": {"datum": "ka", "type": "nominal", "bandPosition": 0},
                "x2": {"datum": "KD", "bandPosition": 0.92},
                "y": {"datum": "line", "type": "nominal",
                      "scale": {"type": "point", "domain": ["header", "line", "value"], "range": [13, 49], "padding": 0},
                      "axis": null}
              }
            },
            {
              "data": {"values": [
                {"col": "ka", "main": "k", "sub": "a", "rest": "(1/Ms)"},
                {"col": "kd", "main": "k", "sub": "d", "rest": "(s-1)"},
                {"col": "KD", "main": "K", "sub": "D", "rest": "(M)"}
              ]},
              "layer": [
                {"mark": {"type": "text", "font": "Liberation Serif", "fontSize": 20, "color": "black", "align": "right", "baseline": "middle", "dx": 26, "dy": 4},
                 "encoding": {"x": {"field": "col", "type": "nominal", "bandPosition": 0}, "y": {"datum": "header", "type": "nominal"}, "text": {"field": "main"}}},
                {"mark": {"type": "text", "font": "Liberation Serif", "fontSize": 13, "color": "black", "align": "left", "baseline": "middle", "dx": 26, "dy": 10},
                 "encoding": {"x": {"field": "col", "type": "nominal", "bandPosition": 0}, "y": {"datum": "header", "type": "nominal"}, "text": {"field": "sub"}}},
                {"mark": {"type": "text", "font": "Liberation Serif", "fontSize": 20, "color": "black", "align": "left", "baseline": "middle", "dx": 39, "dy": 4},
                 "encoding": {"x": {"field": "col", "type": "nominal", "bandPosition": 0}, "y": {"datum": "header", "type": "nominal"}, "text": {"field": "rest"}}}
              ]
            },
            {
              "data": {"values": [
                {"col": "ka", "v": "1.8 x10⁵"},
                {"col": "kd", "v": "2.55 x10⁻³"},
                {"col": "KD", "v": "1.42x10⁻⁸"}
              ]},
              "mark": {"type": "text", "font": "Liberation Serif", "fontSize": 20, "color": "black", "align": "left", "baseline": "middle", "dx": 15, "dy": 1},
              "encoding": {"x": {"field": "col", "type": "nominal", "bandPosition": 0}, "y": {"datum": "value", "type": "nominal"}, "text": {"field": "v"}}
            }
          ]
        }
  ]
}
